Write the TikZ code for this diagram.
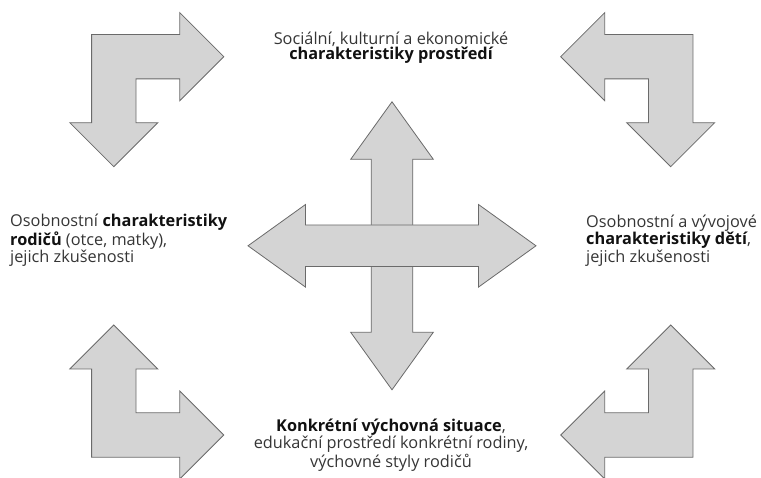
\documentclass[tikz,border=0pt]{standalone}
\usepackage{fontspec}
\setmainfont{Open Sans}
\definecolor{arrfill}{HTML}{D4D4D4}
\definecolor{arrline}{HTML}{6A6A6A}
\definecolor{txt}{HTML}{353535}
\definecolor{txtb}{HTML}{111111}
\tikzset{
  arrowshape/.style={fill=arrfill, draw=arrline, line width=0.8pt, line join=miter},
  label/.style={inner sep=0pt, text=txt, font=\fontsize{16.3}{15}\selectfont},
  elbow/.pic={
    \def\w{22.2}\def\h{44}\def\b{66}\def\t{110}
    \draw[arrowshape] (-\w,-\w) -- (\b,-\w) -- (\b,-\h) -- (\t,0) -- (\b,\h) -- (\b,\w)
      -- (\w,\w) -- (\w,\b) -- (\h,\b) -- (0,\t) -- (-\h,\b) -- (-\w,\b) -- cycle;
  }
}
\newcommand{\bt}[1]{\textbf{\textcolor{txtb}{#1}}}
\begin{document}
\begin{tikzpicture}[x=1pt, y=-1pt]
\useasboundingbox (0,0) rectangle (761,478);
% corner elbow arrows
\pic at (113.8,56.7) {elbow};
\pic[xscale=-1] at (670.7,56.7) {elbow};
\pic[yscale=-1] at (113.8,435) {elbow};
\pic[xscale=-1,yscale=-1] at (670.7,435) {elbow};
% central cross
\begin{scope}[shift={(392,245.8)}]
  \def\W{20.8}\def\H{41.3}\def\B{86.5}\def\T{144}
  \draw[arrowshape] (-\W,-\B) -- (-\H,-\B) -- (0,-\T) -- (\H,-\B) -- (\W,-\B) -- (\W,\B)
    -- (\H,\B) -- (0,\T) -- (-\H,\B) -- (-\W,\B) -- cycle;
  \draw[arrowshape] (-\B,-\W) -- (-\B,-\H) -- (-\T,0) -- (-\B,\H) -- (-\B,\W) -- (\B,\W)
    -- (\B,\H) -- (\T,0) -- (\B,-\H) -- (\B,-\W) -- cycle;
\end{scope}
% texts
\node[label, align=center] (top) at (391,48)
  {Sociální, kulturní a ekonomické\\\bt{charakteristiky prostředí}};
\node[label, align=left, anchor=west] (left) at (10,240.5)
  {Osobnostní \bt{charakteristiky}\\\bt{rodičů} (otce, matky),\\jejich zkušenosti};
\node[label, align=left, anchor=west] (right) at (586,240.5)
  {Osobnostní a vývojové\\\bt{charakteristiky dětí},\\jejich zkušenosti};
\node[label, align=center] (bottom) at (391,445)
  {\bt{Konkrétní výchovná situace},\\edukační prostředí konkrétní rodiny,\\výchovné styly rodičů};
\end{tikzpicture}
\end{document}
